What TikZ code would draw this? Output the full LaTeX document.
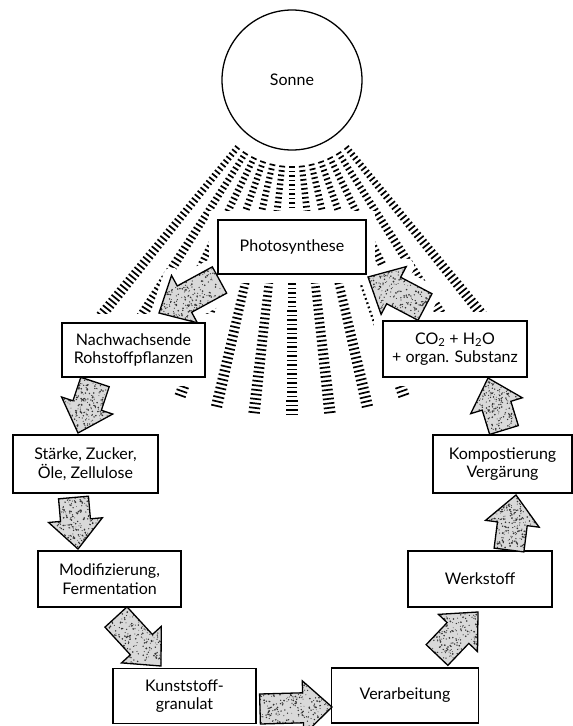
\documentclass[tikz,border=0pt]{standalone}
\usepackage{fontspec}
\setmainfont{Lato}
\usetikzlibrary{calc}
\pgfdeclarelayer{rays}
\pgfdeclarelayer{mask}
\pgfsetlayers{rays,mask,main}

% block arrow dimensions
\newcommand\shaftw{15pt}
\newcommand\headw{27pt}
\newcommand\headlen{29pt}
% outline of a block arrow: #1 prefix, #2 tail, #3 tip, #4 path options
\newcommand\arrowoutline[4]{%
  \path[#4] ($(#2)!\shaftw!90:(#3)$) -- ($(#1-b)!\shaftw!90:(#3)$)
    -- ($(#1-b)!\headw!90:(#3)$) -- (#3) -- ($(#1-b)!\headw!-90:(#3)$)
    -- ($(#1-b)!\shaftw!-90:(#3)$) -- ($(#2)!\shaftw!-90:(#3)$) -- cycle;}
% stippled block arrow with a white clearance around it
\newcommand\blockarrow[3]{%
  \coordinate (#1-b) at ($(#3)!\headlen!(#2)$);
  \begin{pgfonlayer}{mask}\arrowoutline{#1}{#2}{#3}{arrowmask}\end{pgfonlayer}
  \arrowoutline{#1}{#2}{#3}{arrowfill}
  \begin{scope}
    \arrowoutline{#1}{#2}{#3}{clip}
    \foreach \i in {1,...,340}{
      \pgfmathsetmacro\u{rnd}
      \pgfmathsetmacro\v{54*rnd-27}
      \pgfmathsetmacro\rr{0.4+0.55*rnd}
      \fill[speck] ($(#2)!\u!(#3)!\v pt!90:(#3)$) circle[radius=\rr pt];
    }
  \end{scope}
  \arrowoutline{#1}{#2}{#3}{arrowline}}

\newcommand\boxfont{\fontsize{16}{18.5}\selectfont}

\begin{document}
\begin{tikzpicture}[x=1pt, y=-1pt,
  box/.style={draw, line width=1.3pt, fill=white, align=center, font=\boxfont,
    inner sep=2pt, preaction={draw=white, line width=18pt}},
  sunstyle/.style={draw, circle, line width=1.3pt, fill=white, inner sep=0pt,
    minimum size=140pt, font=\boxfont},
  raydash/.style={line width=1.7pt, black},
  arrowmask/.style={draw=white, fill=white, line width=16pt, line join=round},
  arrowfill/.style={fill=gray!30},
  speck/.style={fill=black!80},
  arrowline/.style={draw=black, line width=1.3pt, line join=miter}]
\pgfmathsetseed{4711}
\useasboundingbox (0,0) rectangle (573,726);

% sun
\node[sunstyle] (sun) at (292,80) {Sonne};

% rays: columns of short strokes fanning out below the sun
\begin{pgfonlayer}{rays}
\foreach \k in {-6,...,6}{
  \pgfmathsetmacro\ang{-90+6.5*\k}
  \begin{scope}[shift={(292,80)}, rotate=\ang]
    \foreach \r in {87,91.5,...,335}{
      \pgfmathsetmacro\hh{2+0.011*\r}
      \draw[raydash] (\r,-\hh) -- (\r,\hh);
    }
  \end{scope}
}
\end{pgfonlayer}

% process boxes
\node[box, minimum width=148pt, minimum height=54pt] (photo) at (292,247) {Photosynthese};
\node[box, minimum width=143pt, minimum height=54pt] (nach) at (133.5,350) {Nachwachsende\\Rohstoffpflanzen};
\node[box, minimum width=144pt, minimum height=56pt] (co2) at (455,349) {CO\textsubscript{2} + H\textsubscript{2}O\\+ organ. Substanz};
\node[box, minimum width=145pt, minimum height=58pt] (staerke) at (85.5,464) {Stärke, Zucker,\\Öle, Zellulose};
\node[box, minimum width=139pt, minimum height=58pt] (komp) at (502.5,464) {Kompostierung\\Vergärung};
\node[box, minimum width=143pt, minimum height=56pt] (modif) at (109.5,579) {Modifizierung,\\Fermentation};
\node[box, minimum width=144pt, minimum height=56pt] (werk) at (480,579) {Werkstoff};
\node[box, minimum width=143pt, minimum height=55pt] (kunst) at (184.5,696) {Kunststoff-\\granulat};
\node[box, minimum width=147pt, minimum height=55pt] (verarb) at (405,695.5) {Verarbeitung};

% arrow ends
\coordinate (a1s) at (219.5,280); \coordinate (a1e) at (159,313);
\coordinate (a2s) at (425,307);   \coordinate (a2e) at (368,277);
\coordinate (a3s) at (95,382);    \coordinate (a3e) at (78,433);
\coordinate (a4s) at (73.5,497.5);\coordinate (a4e) at (78,549);
\coordinate (a5s) at (116,617);   \coordinate (a5e) at (161,666);
\coordinate (a6s) at (260,709);   \coordinate (a6e) at (332,707);
\coordinate (a7s) at (437,655);   \coordinate (a7e) at (478,612);
\coordinate (a8s) at (509,550);   \coordinate (a8e) at (516,495);
\coordinate (a9s) at (504,430);   \coordinate (a9e) at (488,378);

% cycle arrows
\blockarrow{a1}{a1s}{a1e}
\blockarrow{a2}{a2s}{a2e}
\blockarrow{a3}{a3s}{a3e}
\blockarrow{a4}{a4s}{a4e}
\blockarrow{a5}{a5s}{a5e}
\blockarrow{a6}{a6s}{a6e}
\blockarrow{a7}{a7s}{a7e}
\blockarrow{a8}{a8s}{a8e}
\blockarrow{a9}{a9s}{a9e}
\end{tikzpicture}
\end{document}
